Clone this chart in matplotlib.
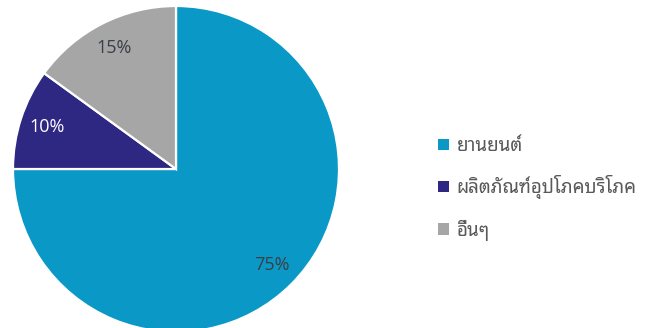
import matplotlib
matplotlib.use("Agg")
import matplotlib.pyplot as plt
from matplotlib.patches import Patch

# share of each sector (%)
sectors = ["ยานยนต์", "ผลิตภัณฑ์อุปโภคบริโภค", "อื่นๆ"]
shares = [75, 10, 15]
colors = ["#0A99C7", "#2F2883", "#A6A6A6"]
label_colors = ["#3A3F48", "white", "#3A3F48"]

W, H = 650, 328
fig = plt.figure(figsize=(W / 100, H / 100), dpi=100)

# pie axes placed in pixels: centre (176, 169), radius 163
cx, cy, r = 176, 169, 163
ax = fig.add_axes([(cx - r) / W, (H - cy - r) / H, 2 * r / W, 2 * r / H])
wedges, texts, autotexts = ax.pie(
    shares, colors=colors, startangle=90, counterclock=False,
    autopct="%d%%", pctdistance=0.83, radius=1,
    wedgeprops=dict(edgecolor="white", linewidth=1.6),
    textprops=dict(family=["Open Sans", "DejaVu Sans"], fontsize=13),
)
for t, c in zip(autotexts, label_colors):
    t.set_color(c)
ax.set_xlim(-1, 1)
ax.set_ylim(-1, 1)
ax.set_aspect("equal")
ax.axis("off")

handles = [Patch(facecolor=c, edgecolor="none") for c in colors]
leg = fig.legend(
    handles, sectors, loc="upper left",
    bbox_to_anchor=(423 / W, 1 - 122 / H), frameon=False,
    prop=dict(family=["Noto Sans Thai Looped", "DejaVu Sans"], size=13.5),
    handlelength=0.6, handleheight=0.55, handletextpad=0.4,
    labelspacing=1.08, borderpad=0.3,
)
for t in leg.get_texts():
    t.set_color("#595959")

fig.savefig("out.png", dpi=100)
